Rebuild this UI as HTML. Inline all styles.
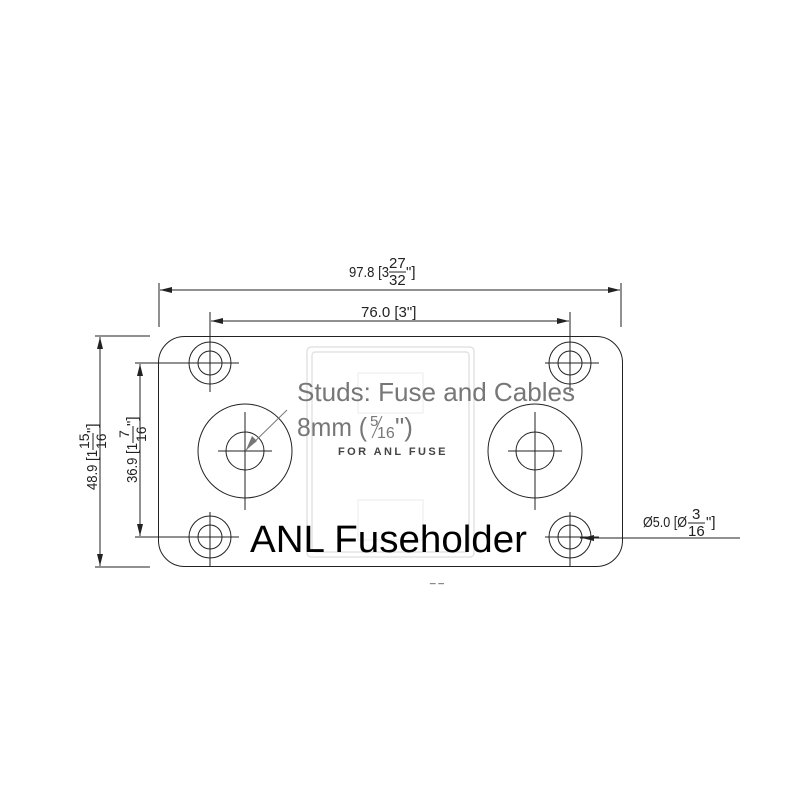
<!DOCTYPE html>
<html><head><style>body{margin:0;background:#fff}svg{display:block}</style></head><body>
<svg width="800" height="800" viewBox="0 0 800 800" xmlns="http://www.w3.org/2000/svg" font-family="Liberation Sans, Arial, sans-serif">
<rect width="800" height="800" fill="#fff"/>
<g fill="none" stroke="#ddd" stroke-width="1.2">
<rect x="307" y="347" width="167" height="210" rx="4"/>
<rect x="312" y="352" width="157" height="200" rx="3"/>
<rect x="358" y="373" width="65" height="40" stroke="#eee"/>
<rect x="358" y="500" width="65" height="40" stroke="#eee"/>
</g>
<g fill="none" stroke="#222" stroke-width="1">
<rect x="158.5" y="336.5" width="464" height="230" rx="26"/>
<circle cx="210" cy="363" r="21"/><circle cx="210" cy="363" r="12"/>
<circle cx="570" cy="363" r="21"/><circle cx="570" cy="363" r="12"/>
<circle cx="210" cy="537" r="21"/><circle cx="210" cy="537" r="12"/>
<circle cx="570" cy="537" r="21"/><circle cx="570" cy="537" r="12"/>
<circle cx="245" cy="451" r="47"/><circle cx="245" cy="451" r="19"/>
<circle cx="535" cy="451" r="47"/><circle cx="535" cy="451" r="19"/>
<path d="M185 363H239M210 338V392M545 363H599M570 338V392M185 537H239M210 512V567M545 537H599M570 512V567"/>
<path d="M218 451H272M245 412V510M508 451H562M535 412V510"/>
<path d="M159 283V327M621 283V327M210 312V340M570 312V340"/>
<path d="M95 336H150M95 567H150M135 363H200M135 537H200"/>
<path d="M580 538H740"/>
<path d="M160 290H620M211 321H569M100 337V566M140 364V536"/>
</g>
<g fill="#222">
<path d="M160 290l12-3v6z"/><path d="M620 290l-12-3v6z"/>
<path d="M211 321l12-3v6z"/><path d="M569 321l-12-3v6z"/>
<path d="M100 337l-3 12h6z"/><path d="M100 566l-3-12h6z"/>
<path d="M140 364l-3 12h6z"/><path d="M140 536l-3-12h6z"/>
<path d="M582 538l12-3v6z"/>
</g>
<line x1="246" y1="450" x2="287" y2="410" stroke="#777" stroke-width="1"/>
<path d="M246 450l6-14 5 5z" fill="#777"/>
<g fill="#222" font-size="15">
<text x="349" y="277" textLength="40" lengthAdjust="spacingAndGlyphs">97.8 [3</text>
<text x="389" y="268" font-size="15">27</text>
<line x1="389" y1="272" x2="406" y2="272" stroke="#222" stroke-width="1"/>
<text x="389" y="285" font-size="15">32</text>
<text x="406" y="277">"]</text>
<text x="361" y="317">76.0 [3"]</text>
<g transform="translate(97,490) rotate(-90)">
<text x="0" y="0" textLength="40" lengthAdjust="spacingAndGlyphs">48.9 [1</text>
<text x="41" y="-8" font-size="14">15</text>
<line x1="40" y1="-4" x2="57" y2="-4" stroke="#222"/>
<text x="41" y="9" font-size="14">16</text>
<text x="57" y="0">"]</text>
</g>
<g transform="translate(137,483) rotate(-90)">
<text x="0" y="0" textLength="40" lengthAdjust="spacingAndGlyphs">36.9 [1</text>
<text x="45" y="-8" font-size="14">7</text>
<line x1="40" y1="-4" x2="57" y2="-4" stroke="#222"/>
<text x="41" y="9" font-size="14">16</text>
<text x="57" y="0">"]</text>
</g>
<text x="643" y="527" textLength="44" lengthAdjust="spacingAndGlyphs">Ø5.0 [Ø</text>
<text x="692" y="519" font-size="15">3</text>
<line x1="688" y1="523" x2="705" y2="523" stroke="#222"/>
<text x="688" y="536" font-size="15">16</text>
<text x="706" y="527">"]</text>
</g>
<g fill="#777">
<text x="297" y="401" font-size="26" textLength="278" lengthAdjust="spacingAndGlyphs">Studs: Fuse and Cables</text>
<text x="297" y="436" font-size="26" textLength="70" lengthAdjust="spacingAndGlyphs">8mm (</text>
<text x="370" y="426" font-size="15">5</text>
<line x1="372" y1="438" x2="382" y2="416" stroke="#777"/>
<text x="377" y="438" font-size="16">16</text>
<text x="395" y="436" font-size="26">")</text>
</g>
<text x="338" y="455" font-size="11" fill="#444" font-weight="bold" letter-spacing="0.5" textLength="108">FOR  ANL  FUSE</text>
<text x="250" y="552" font-size="38" fill="#000" textLength="277" lengthAdjust="spacingAndGlyphs">ANL Fuseholder</text>
<text x="430" y="582" font-size="10" fill="#222">_ _</text>
</svg>
</body></html>
